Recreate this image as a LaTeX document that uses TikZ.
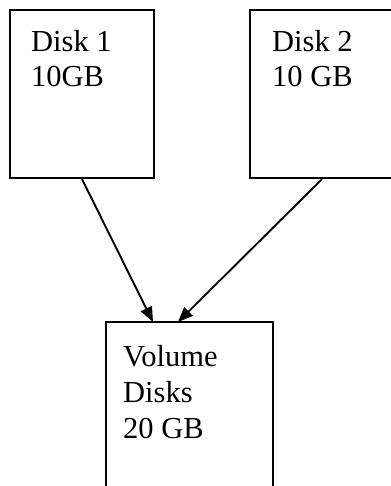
\documentclass[tikz,border=0pt]{standalone}
\usepackage{fontspec}
\setmainfont{Liberation Serif}
\usetikzlibrary{arrows.meta}
\begin{document}
\begin{tikzpicture}[x=1pt,y=-1pt,
  disk/.style={draw=black,line width=2.3pt,minimum width=144pt,minimum height=168pt,inner sep=0pt},
  volbox/.style={draw=black,line width=2.3pt,minimum width=167pt,minimum height=180pt,inner sep=0pt},
  label/.style={anchor=base west,align=left,inner sep=0pt,
    font=\fontsize{30.5pt}{35.7pt}\selectfont},
  link/.style={line width=1.9pt,-{Triangle[length=15pt,width=12pt]}}]
\useasboundingbox (0,0) rectangle (390,486);

% storage boxes
\node[disk] (d1) at (82,94) {};
\node[disk] (d2) at (322,94) {};
\node[volbox] (vol) at (189.5,412) {};

% captions (anchored at the baseline of their last line)
\node[label] (t1) at (31,87) {Disk 1\\10GB};
\node[label] (t2) at (272,87) {Disk 2\\10 GB};
\node[label] (t3) at (123,438) {Volume\\Disks\\20 GB};

% where the arrows meet the volume box
\coordinate (in1) at (153,322);
\coordinate (in2) at (178,322);

\draw[link] (d1.south) -- (in1);
\draw[link] (d2.south) -- (in2);
\end{tikzpicture}
\end{document}
